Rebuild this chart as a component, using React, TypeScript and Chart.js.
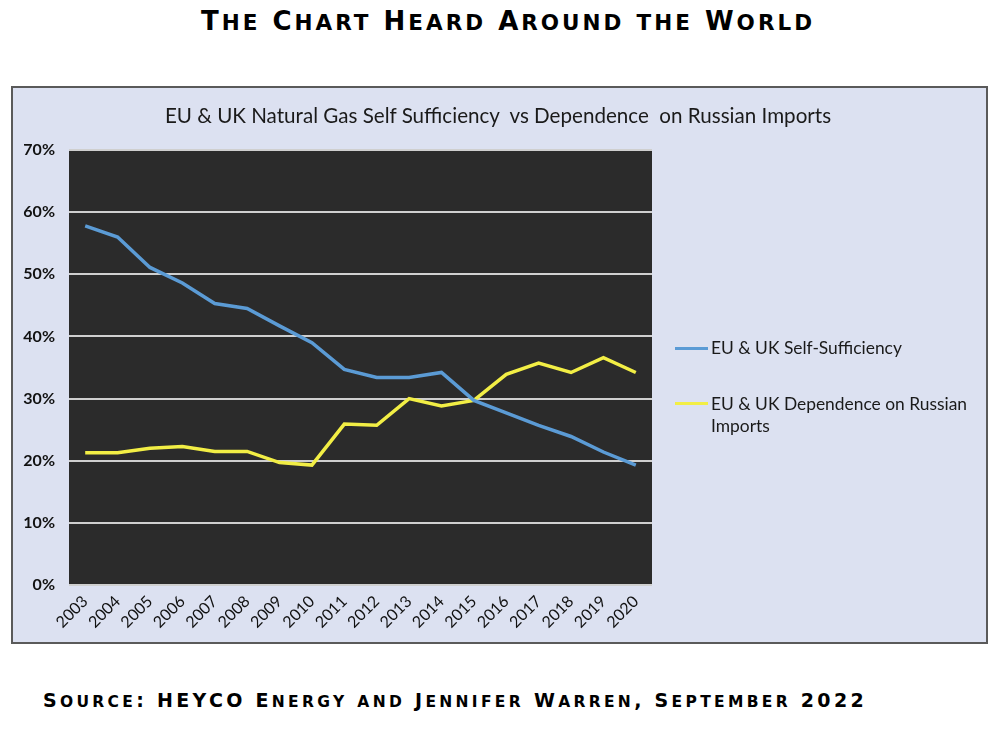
import React, { useEffect, useRef } from "react";
import { Chart, registerables } from "chart.js";

Chart.register(...registerables);

const years = ["2003","2004","2005","2006","2007","2008","2009","2010","2011","2012","2013","2014","2015","2016","2017","2018","2019","2020"];
const selfSufficiency = [57.8, 56.0, 51.1, 48.6, 45.3, 44.5, 41.7, 39.0, 34.7, 33.4, 33.4, 34.2, 29.7, 27.7, 25.7, 23.9, 21.4, 19.3];
const russianDependence = [21.3, 21.3, 22.0, 22.3, 21.5, 21.5, 19.7, 19.3, 25.9, 25.7, 30.0, 28.8, 29.7, 33.9, 35.7, 34.2, 36.6, 34.2];
const yTicks = [0, 10, 20, 30, 40, 50, 60, 70];
const seriesNames = ["EU & UK Self-Sufficiency", "EU & UK Dependence on Russian Imports"];

const BLUE = "#5b9bd5";
const YELLOW = "#f2ee45";
const FONT = "Lato, 'Open Sans', sans-serif";

const plotBg = {
  id: "plotBg",
  beforeDraw(chart: any) {
    const { ctx, chartArea } = chart;
    ctx.save();
    ctx.fillStyle = "#2b2b2b";
    ctx.fillRect(chartArea.left, chartArea.top, chartArea.right - chartArea.left, chartArea.bottom - chartArea.top);
    ctx.restore();
  },
};

function SmallCaps({ text, big, small }: { text: string; big: number; small: number }) {
  const parts: React.ReactNode[] = [];
  let i = 0;
  for (const ch of Array.from(text)) {
    const isBig = (ch === ch.toUpperCase() && ch !== ch.toLowerCase()) || /[0-9:,]/.test(ch);
    parts.push(
      <span key={i++} style={{ fontSize: isBig || ch === " " ? big : small }}>
        {ch.toUpperCase()}
      </span>
    );
  }
  return <>{parts}</>;
}

export default function App() {
  const ref = useRef<HTMLCanvasElement | null>(null);

  useEffect(() => {
    if (!ref.current) return;
    const chart = new Chart(ref.current, {
      type: "line",
      data: {
        labels: years,
        datasets: [
          {
            label: seriesNames[0],
            data: selfSufficiency,
            borderColor: BLUE,
            backgroundColor: BLUE,
            borderWidth: 3.5,
            pointRadius: 0,
            tension: 0,
          },
          {
            label: seriesNames[1],
            data: russianDependence,
            borderColor: YELLOW,
            backgroundColor: YELLOW,
            borderWidth: 3.5,
            pointRadius: 0,
            tension: 0,
          },
        ],
      },
      options: {
        animation: false,
        responsive: false,
        layout: { padding: { left: 0, right: 335, top: 63, bottom: 0 } },
        plugins: {
          legend: { display: false },
          title: { display: false },
          tooltip: { enabled: false },
        },
        scales: {
          x: {
            offset: true,
            grid: { display: false, drawTicks: false },
            border: { display: false },
            ticks: {
              color: "#111",
              font: { family: FONT, size: 16 },
              minRotation: 45,
              maxRotation: 45,
              padding: 7,
              autoSkip: false,
            },
            afterFit(scale: any) {
              scale.height = 58;
            },
          },
          y: {
            min: 0,
            max: 70,
            afterBuildTicks(scale: any) {
              scale.ticks = yTicks.map((v) => ({ value: v }));
            },
            grid: { color: "#cfcfcf", lineWidth: 2, drawTicks: false },
            border: { display: false },
            ticks: {
              color: "#111",
              font: { family: FONT, size: 16, weight: "bold" },
              padding: 14,
              callback: (v: any) => v + "%",
            },
            afterFit(scale: any) {
              scale.width = 57;
            },
          },
        },
      },
      plugins: [plotBg],
    });
    return () => chart.destroy();
  }, []);

  const legendText: React.CSSProperties = {
    position: "absolute",
    left: 711,
    fontFamily: FONT,
    fontSize: 17.4,
    color: "#1a1a1a",
    lineHeight: "22px",
    width: 275,
  };

  return (
    <div style={{ position: "absolute", left: 0, top: 0, width: 1000, height: 729, background: "#fff", overflow: "hidden" }}>
      <div
        style={{
          position: "absolute",
          left: 0,
          top: 4,
          width: 1000,
          textAlign: "center",
          fontFamily: "'DejaVu Sans', sans-serif",
          fontWeight: "bold",
          letterSpacing: 3,
          color: "#000",
          paddingLeft: 8,
          whiteSpace: "nowrap",
          lineHeight: "34px",
        }}
      >
        <SmallCaps text="The Chart Heard Around the World" big={26} small={21.5} />
      </div>
      <div
        style={{
          position: "absolute",
          left: 11,
          top: 86,
          width: 977,
          height: 558,
          boxSizing: "border-box",
          border: "2px solid #5a5a5a",
          background: "#dce1f1",
        }}
      />
      <canvas ref={ref} width={975} height={556} style={{ position: "absolute", left: 12, top: 87, width: 975, height: 556 }} />
      <div
        style={{
          position: "absolute",
          left: 0,
          top: 103,
          width: 996,
          textAlign: "center",
          fontFamily: FONT,
          fontSize: 20.6,
          color: "#1a1a1a",
          whiteSpace: "pre",
        }}
      >
        {"EU & UK Natural Gas Self Sufficiency  vs Dependence  on Russian Imports"}
      </div>
      <div style={{ position: "absolute", left: 675, top: 347, width: 33, height: 3, background: BLUE }} />
      <div style={{ ...legendText, top: 337 }}>{seriesNames[0]}</div>
      <div style={{ position: "absolute", left: 675, top: 402, width: 33, height: 3, background: YELLOW }} />
      <div style={{ ...legendText, top: 393 }}>{seriesNames[1]}</div>
      <div
        style={{
          position: "absolute",
          left: 43,
          top: 685,
          fontFamily: "'DejaVu Sans', sans-serif",
          fontWeight: "bold",
          letterSpacing: 3.3,
          color: "#000",
          whiteSpace: "nowrap",
          lineHeight: "30px",
        }}
      >
        <SmallCaps text="Source: HEYCO Energy and Jennifer Warren, September 2022" big={19} small={15.5} />
      </div>
    </div>
  );
}
